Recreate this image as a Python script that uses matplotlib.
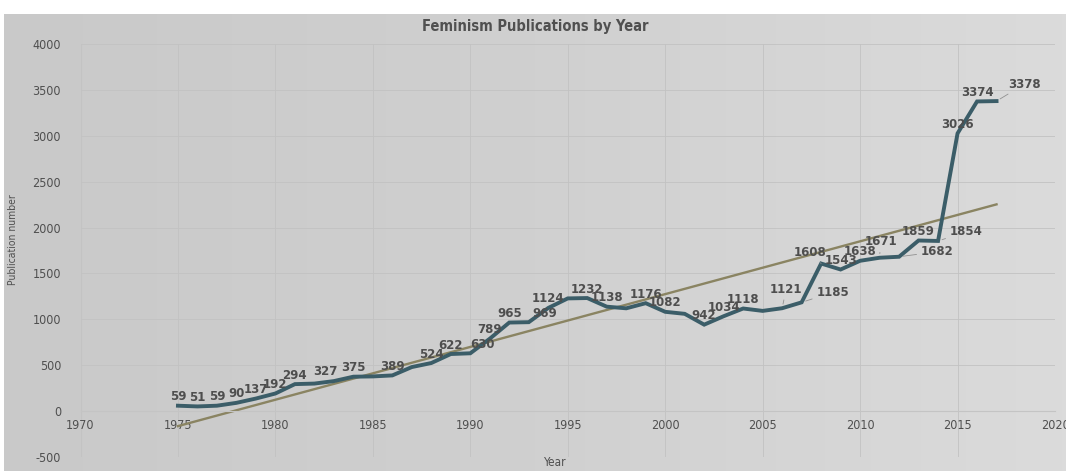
import numpy as np
import matplotlib
matplotlib.use('Agg')
import matplotlib.pyplot as plt

plt.rcParams['axes.unicode_minus'] = False

# Publications per year
years = list(range(1975, 2018))
pubs = [59, 51, 59, 90, 137, 192, 294, 300, 327, 375,
        378, 389, 480, 524, 622, 630, 789, 965, 969, 1124,
        1228, 1232, 1138, 1120, 1176, 1082, 1060, 942, 1034, 1118,
        1092, 1121, 1185, 1608, 1543, 1638, 1671, 1682, 1859, 1854,
        3026, 3374, 3378]
# years whose value label is shown in the chart
labelled = [1975, 1976, 1977, 1978, 1979, 1980, 1981, 1983, 1984, 1986,
            1988, 1989, 1990, 1991, 1992, 1993, 1994, 1996, 1997, 1999,
            2000, 2002, 2003, 2004, 2006, 2007, 2008, 2009, 2010, 2011,
            2012, 2013, 2014, 2015, 2016, 2017]

xticks = list(range(1970, 2021, 5))
yticks = list(range(-500, 4001, 500))

# label offsets in pixels (dx, dy), default above the point
offsets = {1983: (-8, 10), 1990: (12, 9), 1993: (16, 9), 2006: (4, 19),
           2007: (31, 10), 2008: (-11, 11), 2011: (1, 16), 2012: (38, 5),
           2014: (28, 9), 2017: (28, 17)}
leaders = [2006, 2007, 2008, 2011, 2012, 2014, 2017]

W, H = 1066, 471
fig = plt.figure(figsize=(W / 100, H / 100), dpi=100)
fig.patch.set_facecolor('white')

# grey chart background with a soft horizontal gradient
bg = fig.add_axes([4 / W, 0, 1 - 4 / W, 1 - 14 / H])
grad = np.linspace(0, 1, 256).reshape(1, -1)
bg.imshow(grad, aspect='auto', cmap=matplotlib.colors.LinearSegmentedColormap.from_list(
    'g', ['#c9c9c9', '#d0d0d0', '#dbdbdb']), extent=[0, 1, 0, 1])
bg.set_axis_off()

ax = fig.add_axes([80.5 / W, 1 - 457 / H, (1055 - 80.5) / W, (457 - 44) / H])
ax.set_facecolor('none')

ax.plot(years, pubs, color='#3b5d68', lw=2.8, zorder=3, solid_joinstyle='miter')

slope, icpt = np.polyfit(years, pubs, 1)
tx = np.array([years[0], years[-1]])
ax.plot(tx, slope * tx + icpt, color='#8a8462', lw=1.7, zorder=2)

for yr in labelled:
    v = pubs[years.index(yr)]
    dx, dy = offsets.get(yr, (0, 9))
    kw = {}
    if yr in leaders:
        kw['arrowprops'] = dict(arrowstyle='-', color='#909090', lw=0.6,
                                shrinkA=1, shrinkB=3)
    ax.annotate(str(v), (yr, v), xytext=(dx, dy), textcoords='offset pixels',
                ha='center', va='center', fontsize=8.5, fontweight='bold',
                color='#4e4e4e', zorder=4, **kw)

ax.set_xlim(1970, 2020)
ax.set_ylim(-500, 4000)
ax.set_xticks(xticks)
ax.set_yticks(yticks)
ax.grid(True, color='#c2c2c2', lw=0.6)
ax.set_axisbelow(True)
for s in ['top', 'right', 'left']:
    ax.spines[s].set_visible(False)
ax.spines['bottom'].set_position(('data', 0))
ax.spines['bottom'].set_color('#c4c4c4')
ax.tick_params(length=0, labelsize=9, labelcolor='#4f4f4f')
ax.tick_params(axis='y', pad=14)
ax.tick_params(axis='x', pad=6)
for t in ax.get_xticklabels() + ax.get_yticklabels():
    t.set_fontstretch('condensed')

fig.text(535 / W, 1 - 27 / H, 'Feminism Publications by Year', ha='center', va='center',
         fontsize=10.5, fontweight='bold', color='#505050', fontstretch='condensed')
fig.text(555 / W, 1 - 463 / H, 'Year', ha='center', va='center',
         fontsize=8.5, color='#505050', fontstretch='condensed')
fig.text(13 / W, 1 - 240 / H, 'Publication number', ha='center', va='center',
         rotation=90, fontsize=7.5, color='#505050', fontstretch='condensed')

fig.savefig('out.png', dpi=100)
